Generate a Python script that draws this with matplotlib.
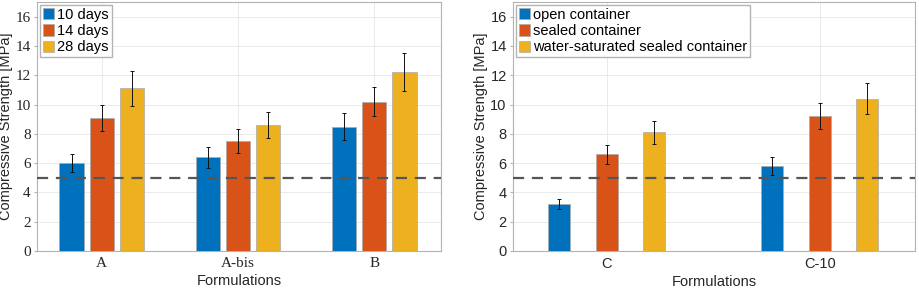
import numpy as np
import matplotlib.pyplot as plt

# left panel: curing time
cats_l = ['A', 'A-bis', 'B']
labels_l = ['10 days', '14 days', '28 days']
vals_l = [[6.0, 6.4, 8.5],
          [9.1, 7.5, 10.2],
          [11.1, 8.6, 12.2]]
err_l = [[0.6, 0.7, 0.9],
         [0.9, 0.8, 1.0],
         [1.2, 0.9, 1.3]]

# right panel: curing condition
cats_r = ['C', 'C-10']
labels_r = ['open container', 'sealed container', 'water-saturated sealed container']
vals_r = [[3.2, 5.8],
          [6.6, 9.2],
          [8.1, 10.4]]
err_r = [[0.35, 0.6],
         [0.65, 0.9],
         [0.8, 1.05]]

yticks = [0, 2, 4, 6, 8, 10, 12, 14, 16]
threshold = 5
colors = ['#0072BD', '#D95319', '#EDB120']

plt.rcParams['font.family'] = ['Liberation Sans', 'DejaVu Sans']
plt.rcParams['font.size'] = 10

fig = plt.figure(figsize=(9.2, 2.88), dpi=100)
ax1 = fig.add_axes([37/920, 37/288, 404/920, 249/288])
ax2 = fig.add_axes([513/920, 37/288, 402/920, 249/288])


def panel(ax, cats, labels, vals, errs, offset, width, xlim, serif_ticks):
    x = np.arange(1, len(cats)+1)
    for i in range(3):
        ax.bar(x + (i-1)*offset, vals[i], width, color=colors[i],
               edgecolor='#aaaaaa', linewidth=0.5, label=labels[i], zorder=3)
        ax.errorbar(x + (i-1)*offset, vals[i], yerr=errs[i], fmt='none',
                    ecolor='#111111', elinewidth=0.7, capsize=1.2, capthick=0.7, zorder=4)
    ax.axhline(threshold, color='#555555', linestyle=(0, (5, 3.5)), linewidth=1.6, zorder=5)
    ax.set_xlim(xlim)
    ax.set_ylim(0, 17)
    if serif_ticks:
        ax.set_xticks(x, cats, family=['Liberation Serif'], fontsize=11)
        ax.set_yticks(yticks, [str(v) for v in yticks], family=['Liberation Serif'], fontsize=11)
    else:
        ax.set_xticks(x, cats, fontsize=10.5)
        ax.set_yticks(yticks, [str(v) for v in yticks], fontsize=10.5)
    ax.grid(True, color='#e6e6e6', linewidth=0.6, zorder=0)
    ax.set_axisbelow(True)
    for s in ax.spines.values():
        s.set_color('#b3b3b3')
        s.set_linewidth(0.8)
    ax.tick_params(direction='out', length=2.5, color='#b3b3b3', labelcolor='#262626')
    ax.tick_params(axis='x', pad=4, length=0)
    ax.tick_params(axis='y', pad=2)
    ax.set_xlabel('Formulations', fontsize=10.5, labelpad=3, color='#262626')
    ax.set_ylabel('Compressive Strength [MPa]', fontsize=10.5, labelpad=2, color='#262626')
    ax.legend(loc='upper left', fontsize=10.5, handlelength=0.8, handleheight=0.8,
              handletextpad=0.2, labelspacing=0.15, borderpad=0.2, borderaxespad=0.2,
              fancybox=False, framealpha=1, edgecolor='#b3b3b3')


panel(ax1, cats_l, labels_l, vals_l, err_l, 0.222, 0.178, (0.524, 3.49), True)
panel(ax2, cats_r, labels_r, vals_r, err_r, 0.223, 0.103, (0.56, 2.446), False)

fig.savefig('out.png', dpi=100)
